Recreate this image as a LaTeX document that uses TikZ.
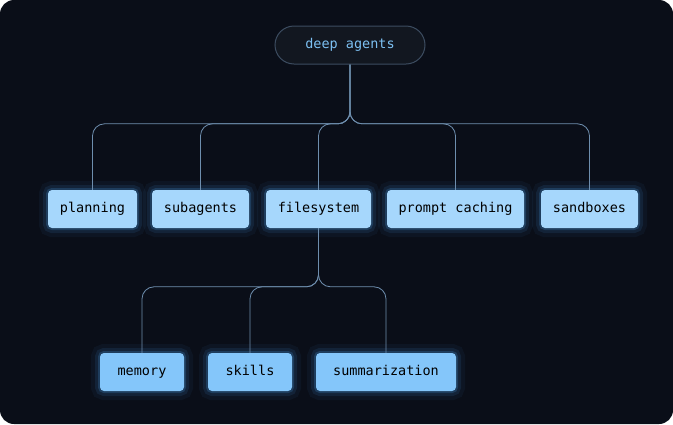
\documentclass[tikz,border=0pt]{standalone}
\usepackage{fontspec}
\setmonofont{DejaVu Sans Mono}
\usepackage{tikz}
\usetikzlibrary{positioning}

\definecolor{bgnavy}{HTML}{0A0E18}
\definecolor{rootfill}{HTML}{121720}
\definecolor{rootline}{HTML}{3C4C60}
\definecolor{roottext}{HTML}{7CC0F2}
\definecolor{leaffill}{HTML}{A6D7FC}
\definecolor{subfill}{HTML}{84C6FA}
\definecolor{linkc}{HTML}{6E8EAE}
\definecolor{glowc}{HTML}{4AA8F5}

\tikzset{
  box/.style={rounded corners=4pt, minimum height=38pt, inner sep=0pt,
    text height=10pt, text depth=3pt,
    font=\fontsize{13.5}{16}\selectfont\ttfamily, text=black,
    preaction={draw=glowc, line width=18pt, opacity=0.05},
    preaction={draw=glowc, line width=10pt, opacity=0.10},
    preaction={draw=glowc, line width=4pt, opacity=0.20}},
  leaf/.style={box, fill=leaffill},
  subleaf/.style={box, fill=subfill},
  link/.style={draw=linkc, line width=0.8pt, rounded corners=12pt}
}

\begin{document}
\begin{tikzpicture}[x=1pt, y=-1pt]
    % Background
    \fill[white] (0,0) rectangle (673,424);
    \fill[bgnavy, rounded corners=14pt] (0,0) rectangle (673,424);
    \useasboundingbox (0,0) rectangle (673,424);

    % Root
    \node[draw=rootline, line width=1pt, fill=rootfill, rounded corners=19pt,
          minimum width=150pt, minimum height=38pt, text=roottext,
          text height=10pt, text depth=3pt,
          font=\fontsize{13.5}{16}\selectfont\ttfamily] (root) at (350,45) {deep agents};

    % First level
    \node[leaf, minimum width=89pt] (planning) at (92.5,209) {planning};
    \node[leaf, minimum width=97pt] (subagents) at (200.5,209) {subagents};
    \node[leaf, minimum width=105pt] (filesystem) at (318.5,209) {filesystem};
    \node[leaf, minimum width=137pt] (caching) at (455.5,209) {prompt caching};
    \node[leaf, minimum width=97pt] (sandboxes) at (589.5,209) {sandboxes};

    % Second level
    \node[subleaf, minimum width=84pt] (memory) at (142,372) {memory};
    \node[subleaf, minimum width=84pt] (skills) at (250,372) {skills};
    \node[subleaf, minimum width=140pt] (summarization) at (386,372) {summarization};

    % Links root to first level
    \foreach \child in {planning,subagents,filesystem,caching,sandboxes}
        \draw[link] (root.south) |- ([yshift=66pt]\child.north) -- (\child.north);

    % Links filesystem to second level
    \foreach \child in {memory,skills,summarization}
        \draw[link] (filesystem.south) |- ([yshift=66pt]\child.north) -- (\child.north);
\end{tikzpicture}
\end{document}
